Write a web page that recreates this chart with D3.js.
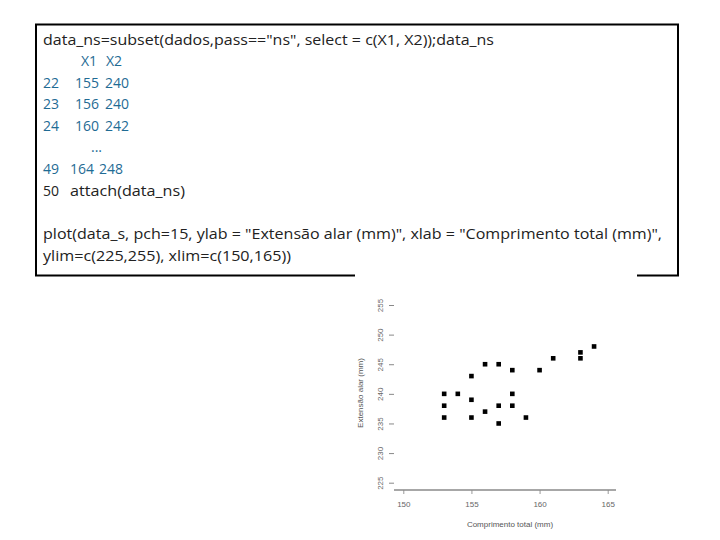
<!DOCTYPE html>
<html>
<head>
<meta charset="utf-8">
<script src="https://cdn.jsdelivr.net/npm/d3@7"></script>
<style>
  body { margin: 0; background: #fff; }
  svg { display: block; }
</style>
</head>
<body>
<svg id="chart" width="720" height="540"></svg>
<script>
// text shown in the code box
const codeHeader = 'data_ns=subset(dados,pass=="ns", select = c(X1, X2));data_ns';
const colNames = ['X1', 'X2'];
const rowIds = ['22', '23', '24'];
const rowX1 = [155, 156, 160];
const rowX2 = [240, 240, 242];
const lastRow = ['49', '164', '248'];
const attachLine = ['50', 'attach(data_ns)'];
const plotCall = [
  'plot(data_s, pch=15, ylab = "Extensão alar (mm)", xlab = "Comprimento total (mm)",',
  'ylim=c(225,255), xlim=c(150,165))'
];

// scatter data
const comprimento = [153, 153, 153, 154, 155, 155, 155, 156, 156, 157, 157, 157, 158, 158, 158, 159, 160, 161, 163, 163, 164];
const extensao    = [240, 238, 236, 240, 243, 239, 236, 245, 237, 245, 238, 235, 244, 240, 238, 236, 244, 246, 246, 247, 248];
const xTicks = [150, 155, 160, 165];
const yTicks = [225, 230, 235, 240, 245, 250, 255];
const xLabel = 'Comprimento total (mm)';
const yLabel = 'Extensão alar (mm)';

const svg = d3.select('#chart');
const blue = '#1f6b94';
const dark = '#222';
const codeFont = '"Open Sans", sans-serif';
const plotFont = 'Liberation Sans, Arial, sans-serif';

svg.append('rect').attr('width', 720).attr('height', 540).attr('fill', '#fff');

// the code box border
svg.append('rect')
  .attr('x', 36).attr('y', 24.5)
  .attr('width', 642).attr('height', 251)
  .attr('fill', 'none')
  .attr('stroke', '#000')
  .attr('stroke-width', 2);

const code = svg.append('g')
  .attr('font-family', codeFont)
  .attr('font-size', 14);

// helper to add one piece of text
function put(txt, x, y, color, len) {
  const t = code.append('text').attr('x', x).attr('y', y).attr('fill', color).text(txt);
  if (len) t.attr('textLength', len).attr('lengthAdjust', 'spacingAndGlyphs');
  return t;
}

put(codeHeader, 43, 45, dark, 451);
put(colNames[0], 81, 66, blue);
put(colNames[1], 106, 66, blue);

rowIds.forEach((id, i) => {
  const y = 87.5 + i * 21.7;
  put(id, 43, y, blue);
  put(rowX1[i], 75, y, blue);
  put(rowX2[i], 105, y, blue);
});
put('...', 91, 152, blue);
put(lastRow[0], 43, 174, blue);
put(lastRow[1], 70, 174, blue);
put(lastRow[2], 99, 174, blue);
put(attachLine[0], 43, 196, dark);
put(attachLine[1], 70, 196, dark, 115);
put(plotCall[0], 43, 239, dark, 619);
put(plotCall[1], 43, 261, dark, 248);

// ---- scatter plot (pasted R graphic) ----
const plot = svg.append('g');
plot.append('rect')
  .attr('x', 354).attr('y', 277)
  .attr('width', 283).attr('height', 263)
  .attr('fill', '#fff');
// cover the bottom border behind the picture
plot.append('rect')
  .attr('x', 355).attr('y', 272)
  .attr('width', 282).attr('height', 6)
  .attr('fill', '#fff');

const x = d3.scaleLinear().domain([150, 165]).range([403.3, 607.7]);
const y = d3.scaleLinear().domain([225, 255]).range([482.7, 305]);

// x axis
const xAxis = plot.append('g')
  .attr('transform', 'translate(0,490)')
  .call(d3.axisBottom(x).tickValues(xTicks).tickSize(4).tickPadding(7).tickSizeOuter(0));
xAxis.select('.domain').remove();
xAxis.append('line')
  .attr('x1', 394).attr('x2', 616)
  .attr('stroke', '#8a8a8a').attr('stroke-width', 1.5);
xAxis.selectAll('.tick line').attr('stroke', '#999');
xAxis.selectAll('.tick text')
  .attr('fill', '#666')
  .attr('font-family', plotFont)
  .attr('font-size', 8);

// y axis
const yAxis = plot.append('g')
  .attr('transform', 'translate(394,0)')
  .call(d3.axisLeft(y).tickValues(yTicks).tickSize(5).tickSizeOuter(0));
yAxis.select('.domain').remove();
yAxis.selectAll('.tick line').attr('stroke', '#888');
yAxis.selectAll('.tick text')
  .attr('fill', '#666')
  .attr('font-family', plotFont)
  .attr('font-size', 8)
  .attr('text-anchor', 'middle')
  .attr('dy', null)
  .attr('x', null)
  .attr('transform', 'translate(-14,0) rotate(-90)')
  .attr('dominant-baseline', 'central');

// axis titles
plot.append('text')
  .attr('x', 510).attr('y', 527)
  .attr('text-anchor', 'middle')
  .attr('fill', '#555')
  .attr('font-family', plotFont)
  .attr('font-size', 8)
  .text(xLabel);
plot.append('text')
  .attr('transform', 'translate(363,393) rotate(-90)')
  .attr('text-anchor', 'middle')
  .attr('fill', '#555')
  .attr('font-family', plotFont)
  .attr('font-size', 8)
  .text(yLabel);

// points, pch = 15 (filled squares)
const sq = 4.6;
plot.append('g')
  .selectAll('rect')
  .data(comprimento.map((c, i) => [c, extensao[i]]))
  .join('rect')
    .attr('x', d => x(d[0]) - sq / 2)
    .attr('y', d => y(d[1]) - sq / 2)
    .attr('width', sq)
    .attr('height', sq)
    .attr('fill', '#000');
</script>
</body>
</html>
